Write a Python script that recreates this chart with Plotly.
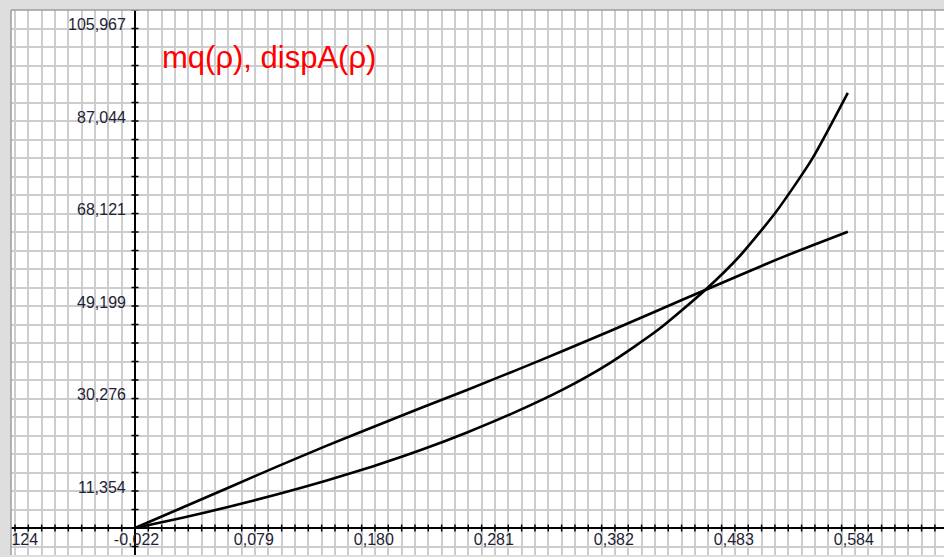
import numpy as np
import plotly.graph_objects as go

# Sample points of the two curves (rho on x)
rho = [0.0, 0.04, 0.08, 0.12, 0.16, 0.20, 0.24, 0.28, 0.32, 0.36, 0.40,
       0.44, 0.48, 0.51, 0.54, 0.57, 0.60]
dispA = [0.0, 4.2, 8.4, 12.6, 16.7, 20.6, 24.5, 28.3, 32.2, 36.2, 40.3,
         44.5, 48.7, 51.8, 54.9, 57.8, 60.6]
mq = [0.0, 2.1, 4.4, 6.9, 9.6, 12.6, 15.9, 19.6, 23.7, 28.3, 33.8,
      40.5, 48.7, 55.9, 64.8, 75.5, 89.0]

# Axis labels
x_label_vals = [-0.124, -0.022, 0.079, 0.180, 0.281, 0.382, 0.483, 0.584]
x_label_text = ["-0,124", "-0,022", "0,079", "0,180", "0,281", "0,382", "0,483", "0,584"]
y_label_vals = [11.354, 30.276, 49.199, 68.121, 87.044, 105.967]
y_label_text = ["11,354", "30,276", "49,199", "68,121", "87,044", "105,967"]

title_text = "mq(\u03c1), dispA(\u03c1)"

# Grid steps: 9 cells per x label step, 5 cells per y label step
dx = (x_label_vals[-1] - x_label_vals[1]) / 54
dy = (y_label_vals[-1] - y_label_vals[0]) / 25

x_range = [-0.10438, 0.68098]
y_range = [-5.52, 105.967]

font_family = "Liberation Sans, Arial, sans-serif"
label_font = dict(family=font_family, size=16, color="#1e1e36")

fig = go.Figure()

# small tick marks along both axes
xt = np.arange(np.ceil(x_range[0] / dx), np.floor(x_range[1] / dx) + 1) * dx
yt = np.arange(np.ceil(y_range[0] / dy), np.floor(y_range[1] / dy) + 1) * dy
fig.add_trace(go.Scatter(x=xt, y=np.zeros_like(xt), mode="markers",
                         marker=dict(symbol="line-ns", size=5,
                                     line=dict(color="black", width=1.5)),
                         hoverinfo="skip", showlegend=False))
fig.add_trace(go.Scatter(x=np.zeros_like(yt), y=yt, mode="markers",
                         marker=dict(symbol="line-ew", size=5,
                                     line=dict(color="black", width=1.5)),
                         hoverinfo="skip", showlegend=False))

# curves
curve_line = dict(color="black", width=2.6, shape="spline", smoothing=0.6)
fig.add_trace(go.Scatter(x=rho, y=dispA, mode="lines", name="dispA",
                         line=curve_line, showlegend=False))
fig.add_trace(go.Scatter(x=rho, y=mq, mode="lines", name="mq",
                         line=curve_line, showlegend=False))

# x tick labels: text trace so the leftmost one is clipped by the plot area;
# an invisible marker pushes the text a little away from its tick
fig.add_trace(go.Scatter(x=x_label_vals, y=[0] * len(x_label_vals),
                         mode="markers+text",
                         marker=dict(size=6.4, color="rgba(0,0,0,0)"),
                         text=x_label_text, textposition="bottom right",
                         textfont=label_font, hoverinfo="skip", showlegend=False))

# y tick labels sit left of the axis, just below their grid line
for v, t in zip(y_label_vals, y_label_text):
    fig.add_annotation(x=0, y=v, xref="x", yref="y", text=t, showarrow=False,
                       xanchor="right", yanchor="top", xshift=-7, yshift=-4,
                       font=label_font)

fig.add_annotation(x=0.021, y=96.2, xref="x", yref="y", text=title_text,
                   showarrow=False, xanchor="left", yanchor="middle",
                   font=dict(family=font_family, size=31, color="#ff0000"))

axis_common = dict(showticklabels=False, ticks="", showgrid=True,
                   gridcolor="#cdcdcd", gridwidth=2, zeroline=True,
                   zerolinecolor="black", zerolinewidth=2, showline=False,
                   fixedrange=True)
fig.update_xaxes(range=x_range, tick0=0, dtick=dx, **axis_common)
fig.update_yaxes(range=y_range, tick0=0, dtick=dy, **axis_common)

# frame lines at the left and top edges of the plot area
fig.add_shape(type="line", xref="paper", yref="paper", x0=0, x1=0, y0=0, y1=1,
              line=dict(color="#9c9c9c", width=1.5))
fig.add_shape(type="line", xref="paper", yref="paper", x0=0, x1=1, y0=1, y1=1,
              line=dict(color="#9c9c9c", width=1.5))

fig.update_layout(width=944, height=557,
                  margin=dict(l=11, r=0, t=10, b=2, pad=0),
                  paper_bgcolor="#dedede", plot_bgcolor="white",
                  showlegend=False)

fig.write_html("out.html")
